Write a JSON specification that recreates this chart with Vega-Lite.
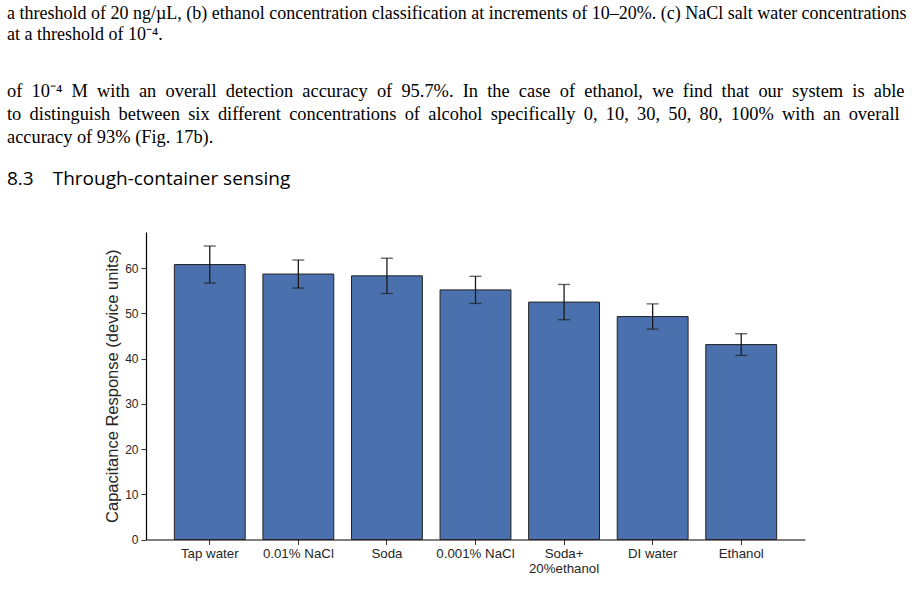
{
  "$schema": "https://vega.github.io/schema/vega-lite/v6.json",
  "background": "white",
  "padding": {"left": 7, "top": 4, "right": 5, "bottom": 5},
  "title": {
    "text": [
      "a threshold of 20 ng/µL, (b) ethanol concentration classification at increments of 10–20%. (c) NaCl salt water concentrations",
      "at a threshold of 10⁻⁴."
    ],
    "anchor": "start",
    "frame": "group",
    "font": "Liberation Serif",
    "fontSize": 18,
    "fontWeight": "normal",
    "color": "#000000",
    "lineHeight": 21,
    "dx": -139,
    "offset": 38
  },
  "vconcat": [
    {
      "width": 659,
      "height": 307.5,
      "title": {
        "text": [
          "of\u200210⁻⁴\u2002M\u2002with\u2002an\u2002overall\u2002detection\u2002accuracy\u2002of\u200295.7%.\u2002In\u2002the\u2002case\u2002of\u2002ethanol,\u2002we\u2002find\u2002that\u2002our\u2002system\u2002is\u2002able",
          "to \u2009distinguish \u2009between \u2009six \u2009different \u2009concentrations \u2009of \u2009alcohol \u2009specifically \u20090, \u200910, \u200930, \u200950, \u200980, \u2009100% \u2009with \u2009an \u2009overall",
          "accuracy of 93% (Fig. 17b)."
        ],
        "subtitle": "8.3\u2003Through-container sensing",
        "anchor": "start",
        "frame": "group",
        "font": "Liberation Serif",
        "fontSize": 18.4,
        "fontWeight": "normal",
        "color": "#000000",
        "lineHeight": 23,
        "subtitleFont": "Open Sans",
        "subtitleFontSize": 19,
        "subtitleColor": "#000000",
        "subtitlePadding": 24,
        "dx": -139,
        "offset": 43
      },
      "data": {
        "values": [
          {"liquid": "Tap water", "mean": 60.8, "err": 4.1},
          {"liquid": "0.01% NaCl", "mean": 58.7, "err": 3.1},
          {"liquid": "Soda", "mean": 58.3, "err": 3.9},
          {"liquid": "0.001% NaCl", "mean": 55.2, "err": 3.0},
          {"liquid": "Soda+\n20%ethanol", "mean": 52.5, "err": 3.9},
          {"liquid": "DI water", "mean": 49.3, "err": 2.8},
          {"liquid": "Ethanol", "mean": 43.1, "err": 2.4}
        ]
      },
      "encoding": {
        "x": {
          "field": "liquid",
          "type": "nominal",
          "sort": null,
          "scale": {"paddingInner": 0.2, "paddingOuter": 0.32},
          "axis": {
            "title": null,
            "labelAngle": 0,
            "labelFontSize": 13.3,
            "labelExpr": "split(datum.label, '\\n')",
            "labelLineHeight": 15
          }
        }
      },
      "layer": [
        {
          "mark": {"type": "bar", "color": "#4a71ad", "stroke": "#222222", "strokeWidth": 1},
          "encoding": {
            "y": {
              "field": "mean",
              "type": "quantitative",
              "title": "Capacitance Response (device units)",
              "scale": {"domain": [0, 68], "nice": false, "zero": true},
              "axis": {
                "values": [0, 10, 20, 30, 40, 50, 60],
                "titleFontSize": 16.5,
                "titlePadding": 4,
                "labelPadding": 3
              }
            }
          }
        },
        {
          "mark": {
            "type": "errorbar",
            "color": "#1a1a1a",
            "thickness": 1.3,
            "ticks": {"size": 12, "thickness": 1.3, "color": "#1a1a1a"}
          },
          "encoding": {
            "y": {"field": "mean", "type": "quantitative", "title": "Capacitance Response (device units)"},
            "yError": {"field": "err"}
          }
        }
      ]
    }
  ],
  "config": {
    "view": {"stroke": null},
    "axis": {
      "grid": false,
      "domainColor": "#000000",
      "domainWidth": 1.2,
      "tickColor": "#333333",
      "tickSize": 5,
      "labelFont": "Liberation Sans",
      "labelFontSize": 12,
      "labelColor": "#262626",
      "labelPadding": 2,
      "titleFont": "Liberation Sans",
      "titleFontWeight": "normal",
      "titleColor": "#262626"
    }
  }
}
